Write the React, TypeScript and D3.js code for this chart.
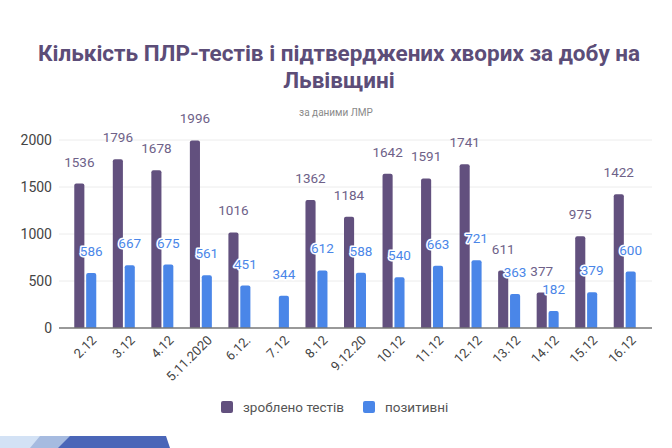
import React from 'react';
import * as d3 from 'd3';

const categories = ['2.12', '3.12', '4.12', '5.11.2020', '6.12.', '7.12', '8.12', '9.12.20', '10.12', '11.12', '12.12', '13.12', '14.12', '15.12', '16.12'];
const tests: (number | null)[] = [1536, 1796, 1678, 1996, 1016, null, 1362, 1184, 1642, 1591, 1741, 611, 377, 975, 1422];
const positive: number[] = [586, 667, 675, 561, 451, 344, 612, 588, 540, 663, 721, 363, 182, 379, 600];
const seriesNames = ['зроблено тестів', 'позитивні'];
const yTicks = [0, 500, 1000, 1500, 2000];

const W = 672;
const H = 448;
const PURPLE = '#62507e';
const BLUE = '#4a86e8';

export default function App() {
  const x = d3.scaleBand<string>().domain(categories).range([66, 644]);
  const x1 = d3.scaleBand<string>().domain(seriesNames).range([-11, 11]).paddingInner(0.15);
  const y = d3.scaleLinear().domain([0, 2000]).range([328, 140]);

  const center = (c: string) => (x(c) as number) + x.bandwidth() / 2;
  const bw = x1.bandwidth();

  return (
    <svg width={W} height={H} style={{ position: 'absolute', left: 0, top: 0, background: '#fff' }}
      fontFamily="Roboto, 'Noto Sans', sans-serif">
      {/* заголовок */}
      <text x={339} y={61} textAnchor="middle" fontSize={22.5} fontWeight="bold" fill="#5c4d78">
        Кількість ПЛР-тестів і підтверджених хворих за добу на
      </text>
      <text x={339} y={88} textAnchor="middle" fontSize={22.5} fontWeight="bold" fill="#5c4d78">
        Львівщині
      </text>
      <text x={336} y={116} textAnchor="middle" fontSize={10} fill="#8a8a8a">за даними ЛМР</text>

      {/* сітка */}
      {yTicks.filter(t => t > 0).map(t => (
        <line key={t} x1={59} x2={652} y1={y(t)} y2={y(t)} stroke="#ececec" strokeWidth={1} />
      ))}
      {yTicks.map(t => (
        <text key={'l' + t} x={52} y={y(t) + 5} textAnchor="end" fontSize={14} fill="#444">{t}</text>
      ))}

      {/* стовпці */}
      {categories.map((c, i) => {
        const cx = center(c);
        const t = tests[i];
        const p = positive[i];
        const xp = cx + (x1(seriesNames[0]) as number);
        const xb = cx + (x1(seriesNames[1]) as number);
        return (
          <g key={c}>
            {t != null && (
              <path d={`M${xp},${y(0)}V${y(t) + 2}q0,-2 2,-2h${bw - 4}q2,0 2,2V${y(0)}Z`} fill={PURPLE} />
            )}
            <path d={`M${xb},${y(0)}V${y(p) + 2}q0,-2 2,-2h${bw - 4}q2,0 2,2V${y(0)}Z`} fill={BLUE} />
          </g>
        );
      })}
      <line x1={59} x2={652} y1={y(0)} y2={y(0)} stroke="#777" strokeWidth={1.5} />

      {/* підписи значень */}
      {categories.map((c, i) => {
        const cx = center(c);
        const t = tests[i];
        const p = positive[i];
        const xp = cx + (x1(seriesNames[0]) as number) + bw / 2;
        const xb = cx + (x1(seriesNames[1]) as number) + bw / 2;
        return (
          <g key={'v' + c} fontSize={13.5}>
            {t != null && (
              <text x={xp} y={y(t) - 17} textAnchor="middle" fill="#6e6188">{t}</text>
            )}
            <text x={xb} y={y(p) - 17} textAnchor="middle" fill={BLUE} stroke="#fff" strokeWidth={3}
              paintOrder="stroke" strokeLinejoin="round">{p}</text>
          </g>
        );
      })}

      {/* мітки осі X */}
      {categories.map(c => (
        <text key={'x' + c} transform={`translate(${center(c) + 12},${341}) rotate(-45)`}
          textAnchor="end" fontSize={13} fill="#444">{c}</text>
      ))}

      {/* легенда */}
      <rect x={221} y={401} width={12} height={12} rx={2} fill={PURPLE} />
      <text x={243} y={411.5} fontSize={13.5} fill="#555">{seriesNames[0]}</text>
      <rect x={363} y={401} width={12} height={12} rx={2} fill={BLUE} />
      <text x={385} y={411.5} fontSize={13.5} fill="#555">{seriesNames[1]}</text>

      {/* декор внизу */}
      <path d="M0,436H75L60,448H0Z" fill="#d3e2f5" />
      <path d="M40,436H75L62,448H30Z" fill="#a6bbe0" />
      <path d="M70,436H166L170,448H58Z" fill="#4a66b8" />
    </svg>
  );
}
